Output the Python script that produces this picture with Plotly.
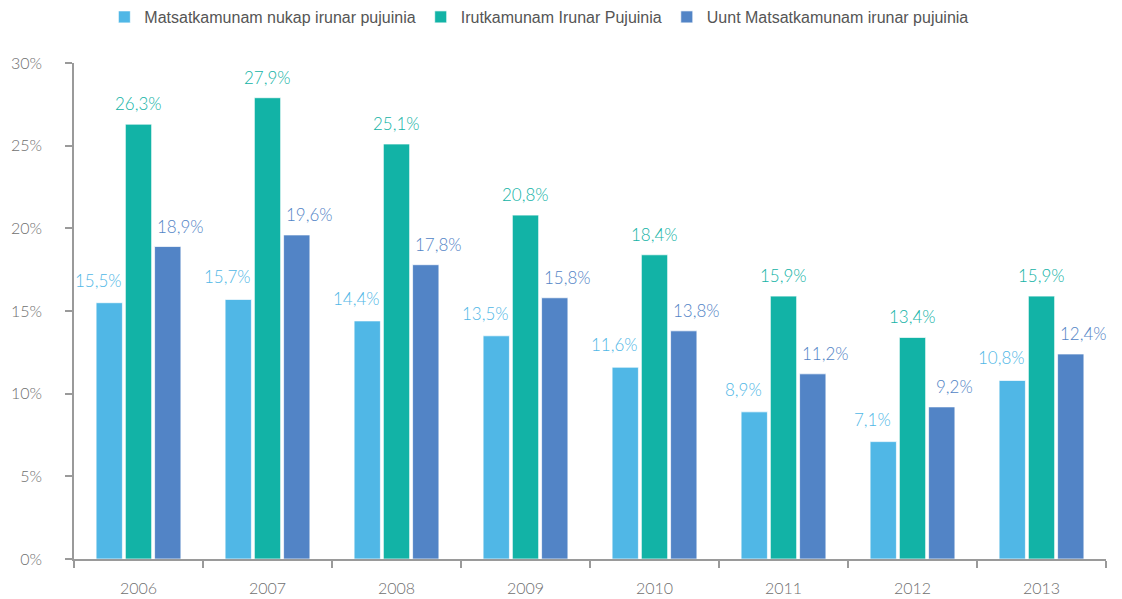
import plotly.graph_objects as go

years = ['2006', '2007', '2008', '2009', '2010', '2011', '2012', '2013']
nukap = [15.5, 15.7, 14.4, 13.5, 11.6, 8.9, 7.1, 10.8]
irutkamunam = [26.3, 27.9, 25.1, 20.8, 18.4, 15.9, 13.4, 15.9]
uunt = [18.9, 19.6, 17.8, 15.8, 13.8, 11.2, 9.2, 12.4]

series_names = ['Matsatkamunam nukap irunar pujuinia',
                'Irutkamunam Irunar Pujuinia',
                'Uunt Matsatkamunam irunar pujuinia']
y_ticks = [0, 5, 10, 15, 20, 25, 30]

colors = ['#50b7e6', '#12b3a6', '#5284c6']
label_font = 'Lato, Open Sans, sans-serif'


def pct(v):
    return f"{v:.1f}".replace('.', ',') + '%'


fig = go.Figure()
for name, vals, col in zip(series_names, [nukap, irutkamunam, uunt], colors):
    fig.add_trace(go.Bar(
        x=years, y=vals, name=name,
        marker=dict(color=col, line=dict(color='rgba(255,255,255,0.7)', width=1)),
        hoverinfo='x+y'))

# value labels (light series shifted left, dark series shifted right, like the original)
# annotation x uses the category index so '2006' is not read as a number
shifts = [(-40, 10), (0, 8), (42, 8)]
for vals, col, (dx, dy) in zip([nukap, irutkamunam, uunt], colors, shifts):
    for i, v in enumerate(vals):
        fig.add_annotation(
            x=i, y=v, text=pct(v), showarrow=False,
            xanchor='center', yanchor='bottom', xshift=dx, yshift=dy,
            font=dict(family=label_font, size=17, color=col, weight=300))

fig.update_layout(
    barmode='group', bargap=0.32, bargroupgap=0.1,
    plot_bgcolor='white', paper_bgcolor='white',
    width=1122, height=599,
    margin=dict(l=74, r=16, t=63, b=40, autoexpand=False),
    showlegend=True,
    legend=dict(orientation='h', xref='container', yref='container',
                x=0.093, y=1.0, xanchor='left', yanchor='top',
                font=dict(family='Liberation Sans, Arial, sans-serif', size=16, color='#555555'),
                itemwidth=30, traceorder='normal'),
    xaxis=dict(type='category', range=[-0.5, len(years) - 0.5],
               showline=True, linecolor='#9a9a9a', linewidth=1.5,
               ticks='outside', tickson='boundaries', ticklen=7, tickcolor='#9a9a9a',
               tickwidth=1.5, ticklabelstandoff=14,
               tickfont=dict(family=label_font, size=16, color='#6f6f6f', weight=300),
               showgrid=False),
    yaxis=dict(range=[0, 30], tickvals=y_ticks, ticktext=[f"{t}%" for t in y_ticks],
               showline=True, linecolor='#9a9a9a', linewidth=1.5,
               ticks='outside', ticklen=7, tickcolor='#9a9a9a', tickwidth=1.5,
               ticklabelstandoff=20,
               tickfont=dict(family=label_font, size=16, color='#6f6f6f', weight=300),
               showgrid=False, zeroline=False),
)

# drop the default 8px body margin so the figure sits at the page corner
fig.write_html("out.html", config={'displayModeBar': False},
               post_script="document.body.style.margin='0px';")
